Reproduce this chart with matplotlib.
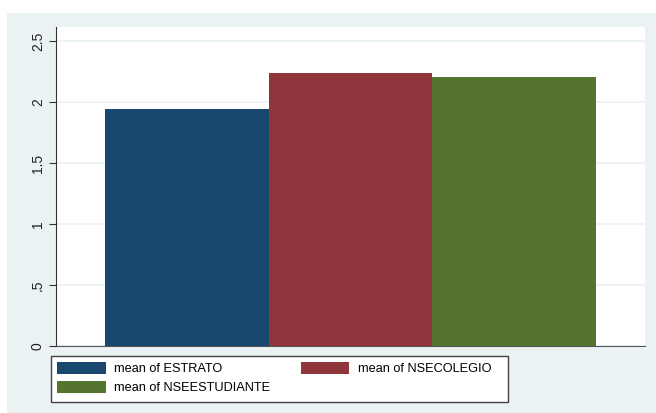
import matplotlib
matplotlib.use("Agg")
import matplotlib.pyplot as plt
from matplotlib.patches import Patch, Rectangle

plt.rcParams['font.family'] = ['Liberation Sans', 'DejaVu Sans']

series = ["mean of ESTRATO", "mean of NSECOLEGIO", "mean of NSEESTUDIANTE"]
values = [1.943, 2.238, 2.205]
colors = ["#1a476f", "#90353b", "#55752f"]
yticks = [0, 0.5, 1, 1.5, 2, 2.5]
yticklabels = ["0", ".5", "1", "1.5", "2", "2.5"]

W, H = 656, 413
fig = plt.figure(figsize=(W / 100, H / 100), dpi=100)
fig.patch.set_facecolor("white")
bg = "#eaf2f3"
fig.patches.append(Rectangle((7 / W, 0), 1 - 7 / W, (H - 13) / H, transform=fig.transFigure,
                             facecolor=bg, edgecolor="none", zorder=-10))

ax = fig.add_axes([56 / W, (H - 346) / H, 589 / W, (346 - 27) / H])
ax.set_facecolor("white")
positions = list(range(len(values)))
bars = ax.bar(positions, values, width=1.0, color=colors, edgecolor="none", zorder=3)
ax.set_xlim(-0.8, 2.8)
ax.set_ylim(0, 2.615)
ax.set_yticks(yticks)
ax.set_yticklabels(yticklabels, rotation=90, va="center", fontsize=10)
ax.set_xticks([])
ax.grid(axis="y", color=bg, linewidth=1.2, zorder=0)
for s in ["top", "right"]:
    ax.spines[s].set_visible(False)
ax.spines["left"].set_color("#333333")
ax.spines["bottom"].set_color("#555555")
ax.tick_params(axis="y", direction="out", length=5, color="#333333", pad=3, labelcolor="#222222")

# legend frame box
fig.patches.append(Rectangle((51 / W, (H - 402) / H), (508 - 51) / W, (402 - 356) / H,
                             transform=fig.transFigure, facecolor="white",
                             edgecolor="#404040", linewidth=1.0, zorder=4))

handles = [Patch(facecolor=c, edgecolor="none") for c in colors]
order = [0, 2, 1]
leg = fig.legend([handles[i] for i in order], [series[i] for i in order],
                 ncol=2, loc="upper left",
                 bbox_to_anchor=(57 / W, (H - 362) / H),
                 frameon=False,
                 fontsize=9.2, handlelength=3.8, handleheight=1.1, handletextpad=0.7,
                 borderpad=0, labelspacing=0.4, borderaxespad=0, columnspacing=2.35)
leg.set_zorder(5)

fig.savefig("out.png", dpi=100)
